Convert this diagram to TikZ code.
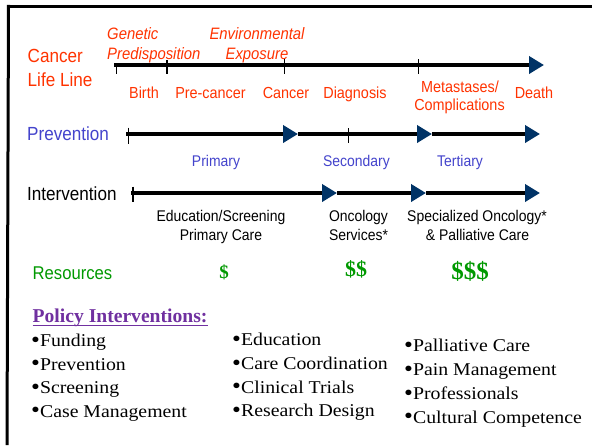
\documentclass[tikz,border=0pt]{standalone}
\usepackage{fontspec}
\usetikzlibrary{arrows.meta}
\newfontfamily\sansN[FakeStretch=0.9]{Liberation Sans}
\newfontfamily\serifW[FakeStretch=1.1]{Liberation Serif}
\newfontfamily\serifB{Liberation Serif}
\definecolor{lred}{HTML}{FF3300}
\definecolor{lblue}{HTML}{4444CC}
\definecolor{lgreen}{HTML}{009900}
\definecolor{lpurple}{HTML}{7030A0}
\definecolor{navy}{HTML}{003366}
\newcommand{\bul}{\raisebox{-0.8pt}{\fontsize{23}{23}\selectfont •}}
\tikzset{
  lab/.style={inner sep=0pt, anchor=base},
  labw/.style={inner sep=0pt, anchor=base west},
  bigsans/.style={font=\sansN\fontsize{19}{19}\selectfont},
  redsm/.style={lab, text=lred, font=\sansN\fontsize{16}{16}\selectfont},
  redit/.style={lab, text=lred, font=\sansN\itshape\fontsize{16.5}{16.5}\selectfont},
  bluesm/.style={lab, text=lblue, font=\sansN\fontsize{15.5}{15.5}\selectfont},
  blacksm/.style={lab, text=black, font=\sansN\fontsize{15.5}{15.5}\selectfont},
  dollar/.style={lab, text=lgreen},
  bullet/.style={labw, font=\serifW\fontsize{18}{18}\selectfont},
  timeline/.style={line width=4pt, black},
  tick/.style={line width=1pt, black},
  navytip/.style={-{Triangle[length=15pt,width=17pt,color=navy,fill=navy]}},
  frame/.style={line width=3pt, black}
}
\begin{document}
\begin{tikzpicture}[x=1pt,y=-1pt]
\useasboundingbox (0,0) rectangle (592,445);
\fill[white] (0,0) rectangle (592,445);
% frame
\coordinate (f1) at (7,445);
\coordinate (f3) at (592,6.3);
\draw[frame] (f1) -- (8.5,4.8);
\draw[frame] (7,6.3) -- (f3);

% ---------- Cancer life line ----------
\node[labw, bigsans, text=lred] (cll1) at (27.5,62.3) {Cancer};
\node[labw, bigsans, text=lred] (cll2) at (27.5,86) {Life Line};
\node[redit, anchor=base west] (gen1) at (107,39) {Genetic};
\node[redit, anchor=base west] (gen2) at (107,59.3) {Predisposition};
\node[redit] (env1) at (257,39) {Environmental};
\node[redit] (env2) at (257,59.3) {Exposure};
\node[redsm] (birth) at (144,98.3) {Birth};
\node[redsm] (prec) at (210.5,98.3) {Pre-cancer};
\node[redsm] (canc) at (286,98.3) {Cancer};
\node[redsm] (diag) at (355,98.3) {Diagnosis};
\node[redsm] (meta1) at (460,92) {Metastases/};
\node[redsm] (meta2) at (459.5,110.5) {Complications};
\node[redsm] (death) at (534,98.3) {Death};

\coordinate (l0) at (114,65);
\coordinate (l1) at (544,65);
\draw[timeline, navytip] (l0) -- (l1);
\coordinate (t1a) at (116,63); \coordinate (t1b) at (116,74);
\coordinate (t2a) at (167,60); \coordinate (t2b) at (167,74);
\coordinate (t3a) at (284,59); \coordinate (t3b) at (284,74);
\coordinate (t4a) at (418,59); \coordinate (t4b) at (418,74);
\draw[tick] (t1a) -- (t1b);
\draw[line width=2pt] (t2a) -- (t2b);
\draw[tick] (t3a) -- (t3b);
\draw[tick] (t4a) -- (t4b);

% ---------- Prevention ----------
\node[labw, bigsans, text=lblue] (prev) at (27,140.7) {Prevention};
\node[bluesm] (prim) at (216,166.7) {Primary};
\node[bluesm] (sec) at (356.5,166.7) {Secondary};
\node[bluesm] (ter) at (460,166.7) {Tertiary};
\coordinate (p0) at (126,134);
\coordinate (p1) at (298,134);
\coordinate (p2) at (432,134);
\coordinate (p3) at (540,134);
\draw[timeline, navytip] (p0) -- (p1);
\draw[timeline, navytip] (p1) -- (p2);
\draw[timeline, navytip] (p2) -- (p3);
\coordinate (pt1a) at (128,127.5); \coordinate (pt1b) at (128,144);
\coordinate (pt2a) at (348,128); \coordinate (pt2b) at (348,143);
\draw[tick] (pt1a) -- (pt1b);
\draw[tick] (pt2a) -- (pt2b);

% ---------- Intervention ----------
\node[labw, bigsans, text=black] (intv) at (27,200) {Intervention};
\node[blacksm] (ed1) at (221,221) {Education/Screening};
\node[blacksm] (ed2) at (221,240) {Primary Care};
\node[blacksm] (on1) at (358.5,221) {Oncology};
\node[blacksm] (on2) at (358.5,240) {Services*};
\node[blacksm] (sp1) at (477,221) {Specialized Oncology*};
\node[blacksm] (sp2) at (477.5,240) {\& Palliative Care};
\coordinate (i0) at (131,193);
\coordinate (i1) at (337,193);
\coordinate (i2) at (426,193);
\coordinate (i3) at (540,193);
\draw[timeline, navytip] (i0) -- (i1);
\draw[timeline, navytip] (i1) -- (i2);
\draw[timeline, navytip] (i2) -- (i3);
\coordinate (it1a) at (133,186.5); \coordinate (it1b) at (133,202);
\draw[line width=1.5pt] (it1a) -- (it1b);

% ---------- Resources ----------
\node[labw, text=lgreen, font=\sansN\fontsize{18.5}{18.5}\selectfont] (res) at (32.5,279) {Resources};
\node[dollar, font=\serifB\bfseries\fontsize{19}{19}\selectfont] (d1) at (224,278) {\$};
\node[dollar, font=\serifB\bfseries\fontsize{22}{22}\selectfont] (d2) at (356,276) {\$\$};
\node[dollar, font=\serifB\bfseries\fontsize{25}{25}\selectfont] (d3) at (470,279) {\$\$\$};

% ---------- Policy interventions ----------
\node[labw, text=lpurple, font=\serifB\bfseries\fontsize{19.6}{19.6}\selectfont] (pol) at (32.5,322) {Policy Interventions:};
\draw[lpurple, line width=1.5pt] ([yshift=-3.5pt]pol.base west) -- ([yshift=-3.5pt]pol.base east);

\node[bullet] (a1) at (31,346.7) {\bul Funding};
\node[bullet] (a2) at (31,370) {\bul Prevention};
\node[bullet] (a3) at (31,393.5) {\bul Screening};
\node[bullet] (a4) at (31,417) {\bul Case Management};

\node[bullet] (b1) at (232,345.7) {\bul Education};
\node[bullet] (b2) at (232,369.5) {\bul Care Coordination};
\node[bullet] (b3) at (232,393) {\bul Clinical Trials};
\node[bullet] (b4) at (232,416.7) {\bul Research Design};

\node[bullet] (c1) at (404,351.7) {\bul Palliative Care};
\node[bullet] (c2) at (404,375.7) {\bul Pain Management};
\node[bullet] (c3) at (404,399.5) {\bul Professionals};
\node[bullet] (c4) at (404,423) {\bul Cultural Competence};
\end{tikzpicture}
\end{document}
